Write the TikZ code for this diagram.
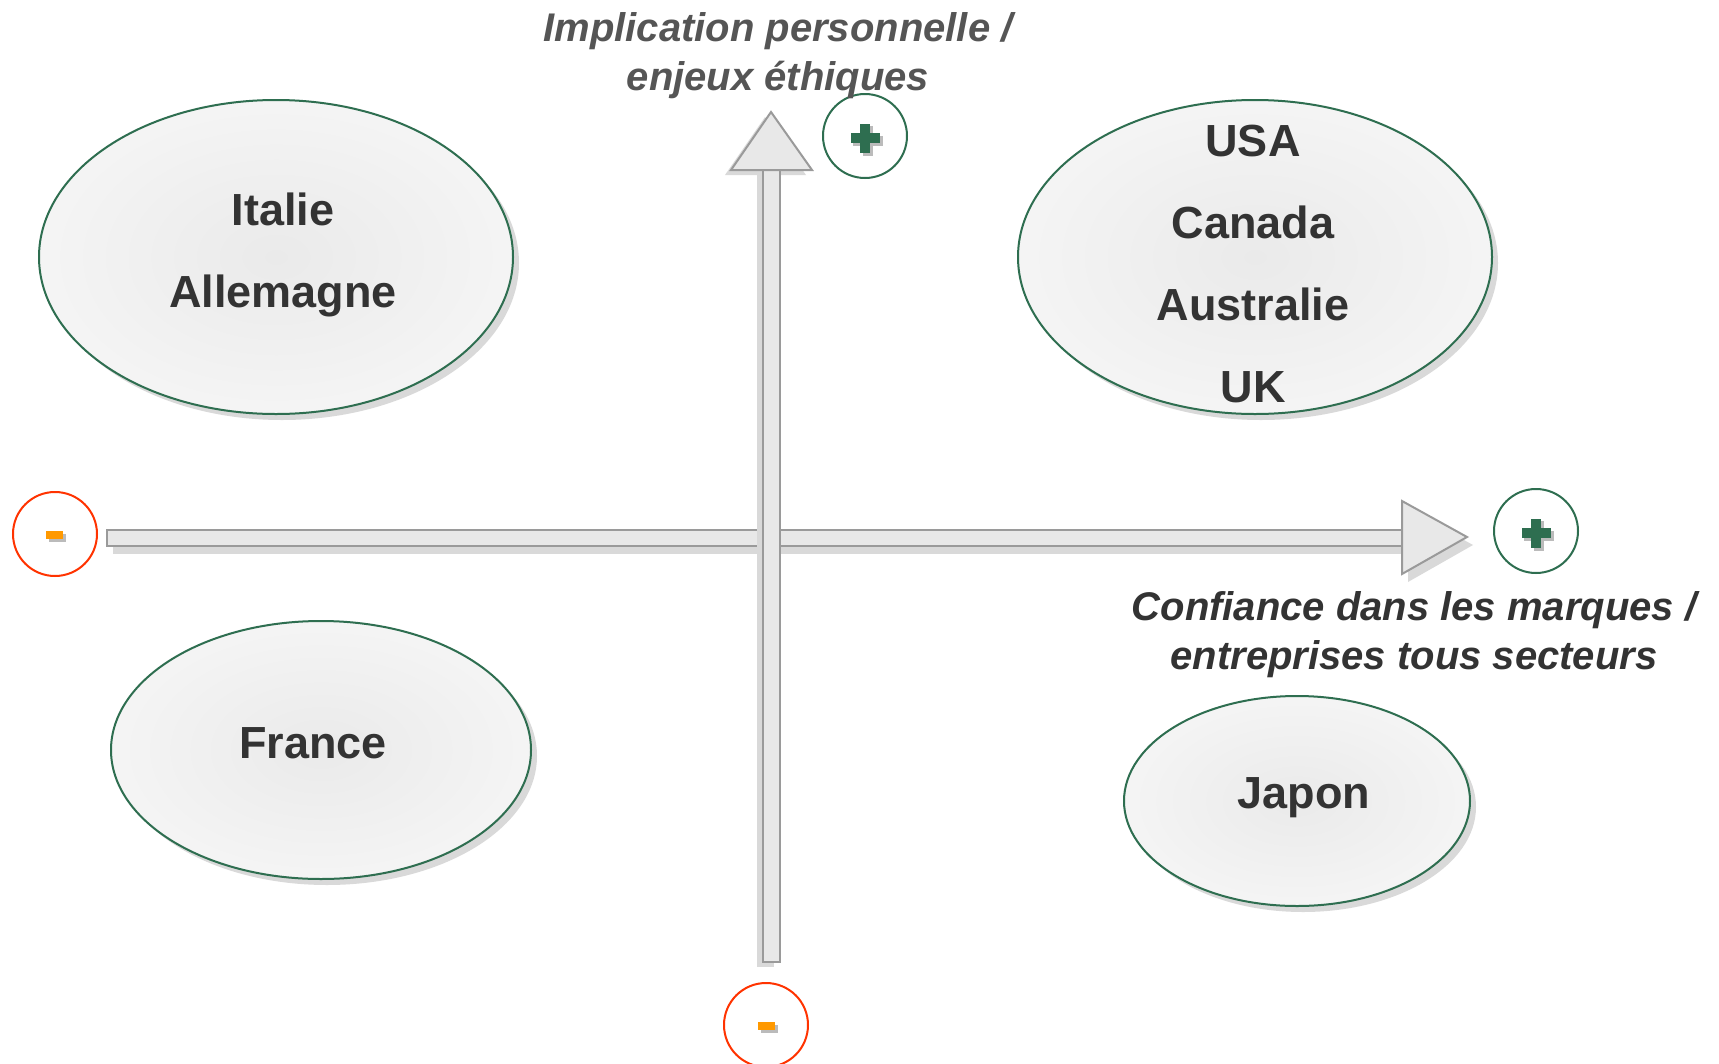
\documentclass[tikz,border=0pt]{standalone}
\usepackage{fontspec}
\setmainfont{Liberation Sans}
\usetikzlibrary{shapes.geometric,shadows}
\definecolor{egreen}{HTML}{2E6E50}
\definecolor{ered}{HTML}{FF3300}
\definecolor{eorange}{HTML}{FF9900}
\definecolor{shaftfill}{HTML}{E8E8E8}
\definecolor{shaftdraw}{HTML}{9A9A9A}
\definecolor{shadowgray}{HTML}{D9D9D9}
\definecolor{signshadow}{HTML}{BBBBBB}
\definecolor{txtdark}{HTML}{333333}
\definecolor{txtmid}{HTML}{555555}
\definecolor{gin}{HTML}{EAEAEA}
\definecolor{gout}{HTML}{F9F9F9}
\pgfdeclareradialshading{ellgrad}{\pgfpoint{0bp}{0bp}}{color(0bp)=(gin); color(36bp)=(gout); color(100bp)=(gout)}
\tikzset{
  country/.style={ellipse, draw=egreen, line width=2pt, shading=ellgrad, inner sep=0pt, outer sep=0pt,
    drop shadow={shadow xshift=6pt, shadow yshift=-6pt, fill=shadowgray, opacity=1}},
  ctxt/.style={font=\fontsize{45}{82}\selectfont\bfseries, align=center, text=txtdark, inner sep=0pt},
  axislbl/.style={font=\fontsize{40}{49}\selectfont\bfseries\itshape, align=center, inner sep=0pt},
  pluscirc/.style={circle, draw=egreen, line width=2pt, fill=white, minimum size=84pt, inner sep=0pt},
  minuscirc/.style={circle, draw=ered, line width=2pt, fill=white, minimum size=84pt, inner sep=0pt},
  shaftstyle/.style={fill=shaftfill, draw=shaftdraw, line width=2pt, line join=miter},
}
\begin{document}
\begin{tikzpicture}[x=1pt,y=-1pt]
\useasboundingbox (0,0) rectangle (1719,1063);
\fill[white] (0,0) rectangle (1719,1063);
\clip (0,0) rectangle (1719,1063);

% ellipses
\node (itaEll) [country, minimum width=474pt, minimum height=314pt] at (276,257) {};
\node (usaEll) [country, minimum width=474pt, minimum height=314pt] at (1255,257) {};
\node (fraEll) [country, minimum width=420pt, minimum height=258pt] at (321,750) {};
\node (japEll) [country, minimum width=346pt, minimum height=210pt] at (1297,801) {};

\node (itaTxt) [ctxt] at (283,255) {Italie\\Allemagne};
\node (usaTxt) [ctxt] at (1253,264) {USA\\Canada\\Australie\\UK};
\node (fraTxt) [ctxt] at (313,743) {France};
\node (japTxt) [ctxt] at (1304,798) {Japon};

% horizontal axis (shadow then arrow)
\fill[shadowgray] (113,538) rectangle (1408,554);
\fill[shadowgray] (1408,509) -- (1473,545) -- (1408,582) -- cycle;
\filldraw[shaftstyle] (107,530) rectangle (1402,546);
\filldraw[shaftstyle] (1402,501) -- (1467,537) -- (1402,574) -- cycle;

% vertical axis (shadow then arrow)
\fill[shadowgray] (757,175) rectangle (774,967);
\fill[shadowgray] (725,175) -- (765,117) -- (806,175) -- cycle;
\filldraw[shaftstyle] (763,170) rectangle (780,962);
\filldraw[shaftstyle] (731,170) -- (771,112) -- (812,170) -- cycle;

% plus / minus markers
\node (plusTop) [pluscirc] at (865,136) {};
\node (plusRight) [pluscirc] at (1536,531) {};
\node (minusLeft) [minuscirc] at (55,534) {};
\node (minusBottom) [minuscirc] at (766,1025) {};

\begin{scope}[shift={(865,138)}]
  \fill[signshadow] (-12.5,-2) rectangle (17.5,8);
  \fill[signshadow] (-2,-12.5) rectangle (8,17.5);
  \fill[egreen] (-14.5,-5) rectangle (14.5,5);
  \fill[egreen] (-5,-14.5) rectangle (5,14.5);
\end{scope}
\begin{scope}[shift={(1536,533)}]
  \fill[signshadow] (-12.5,-2) rectangle (17.5,8);
  \fill[signshadow] (-2,-12.5) rectangle (8,17.5);
  \fill[egreen] (-14.5,-5) rectangle (14.5,5);
  \fill[egreen] (-5,-14.5) rectangle (5,14.5);
\end{scope}
\fill[signshadow] (49,534) rectangle (66,542);
\fill[eorange] (46,531) rectangle (63,539);
\fill[signshadow] (761,1025) rectangle (778,1033);
\fill[eorange] (758,1022) rectangle (775,1030);

% axis labels
\node (topLbl) [axislbl, text=txtmid] at (778,56) {Implication personnelle /\\enjeux éthiques};
\node (rightLbl) [axislbl, text=txtdark] at (1414,635) {Confiance dans les marques /\\entreprises tous secteurs};
\end{tikzpicture}
\end{document}
